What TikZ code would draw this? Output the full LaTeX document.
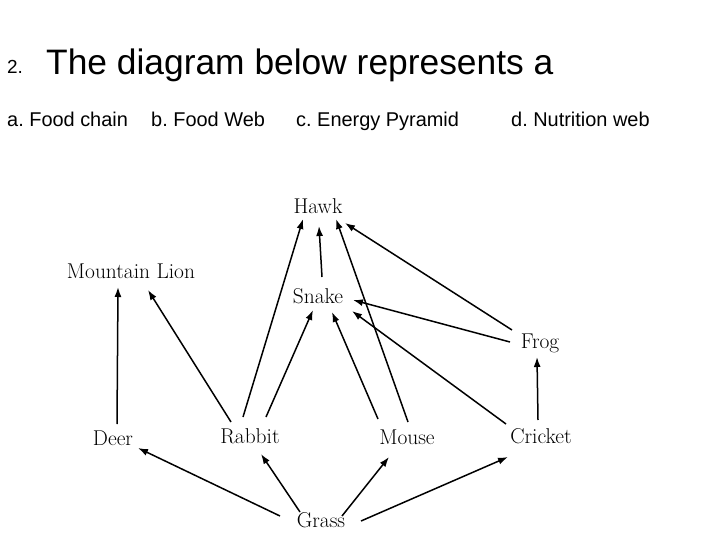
\documentclass[tikz,border=0pt]{standalone}
\usepackage{fontspec}
\usepackage{tikz}
\usetikzlibrary{arrows.meta,calc}
\newfontfamily\headfont{Liberation Sans}
\frenchspacing

\begin{document}
\begin{tikzpicture}[
  x=1bp,y=-1bp,
  animal/.style={font=\fontsize{21.5}{24}\selectfont,inner sep=0pt},
  edge/.style={-{Latex[length=10bp,width=7bp]},line width=1.5bp,draw=black},
  answer/.style={font=\headfont\fontsize{20}{22}\selectfont,anchor=base west,inner sep=0pt}
]
\useasboundingbox[fill=white] (0,0) rectangle (720,540);

% question
\node[font=\headfont\fontsize{19}{22}\selectfont,anchor=base west,inner sep=0pt] (qnum) at (7,74) {2.};
\node[font=\headfont\fontsize{35.5}{40}\selectfont,anchor=base west,inner sep=0pt] (qtext) at (46,75) {The diagram below represents a};
\node[answer] (ansa) at (7,127) {a. Food chain};
\node[answer] (ansb) at (151,127) {b. Food Web};
\node[answer] (ansc) at (296,127) {c. Energy Pyramid};
\node[answer] (ansd) at (511,127) {d. Nutrition web};

% food web
\node[animal] (hawk) at (318,206) {Hawk};
\node[animal] (mlion) at (131,271) {Mountain Lion};
\node[animal] (snake) at (318,296) {Snake};
\node[animal] (frog) at (540,343) {Frog};
\node[animal] (deer) at (113,438) {Deer};
\node[animal] (rabbit) at (250,436) {Rabbit};
\node[animal] (mouse) at (407,437) {Mouse};
\node[animal] (cricket) at (541,436) {Cricket};
\node[animal] (grass) at (321,520) {Grass};

\draw[edge] ($(deer)+(4,-14)$) -- ($(mlion)+(-13,16)$);
\draw[edge] ($(rabbit)+(-19,-14)$) -- ($(mlion)+(17,19)$);
\draw[edge] ($(rabbit)+(-7,-19)$) -- ($(hawk)+(-15,13)$);
\draw[edge] ($(rabbit)+(16,-19)$) -- ($(snake)+(-5,14)$);
\draw[edge] ($(mouse)+(-29,-18)$) -- ($(snake)+(14,16)$);
\draw[edge] ($(mouse)+(1,-15)$) -- ($(hawk)+(18,13)$);
\draw[edge] ($(snake)+(4,-19)$) -- ($(hawk)+(1,20)$);
\draw[edge] ($(cricket)+(-35,-12)$) -- ($(snake)+(34,15)$);
\draw[edge] ($(frog)+(-30,-1)$) -- ($(snake)+(35,4)$);
\draw[edge] ($(frog)+(-28,-13)$) -- ($(hawk)+(27,17)$);
\draw[edge] ($(cricket)+(-3,-16)$) -- ($(frog)+(-3,14)$);
\draw[edge] ($(grass)+(-41,-4)$) -- ($(deer)+(25,10)$);
\draw[edge] ($(grass)+(-21,-8)$) -- ($(rabbit)+(11,18)$);
\draw[edge] ($(grass)+(21,-4)$) -- ($(mouse)+(-18,20)$);
\draw[edge] ($(grass)+(40,1)$) -- ($(cricket)+(-33,21)$);
\end{tikzpicture}
\end{document}
